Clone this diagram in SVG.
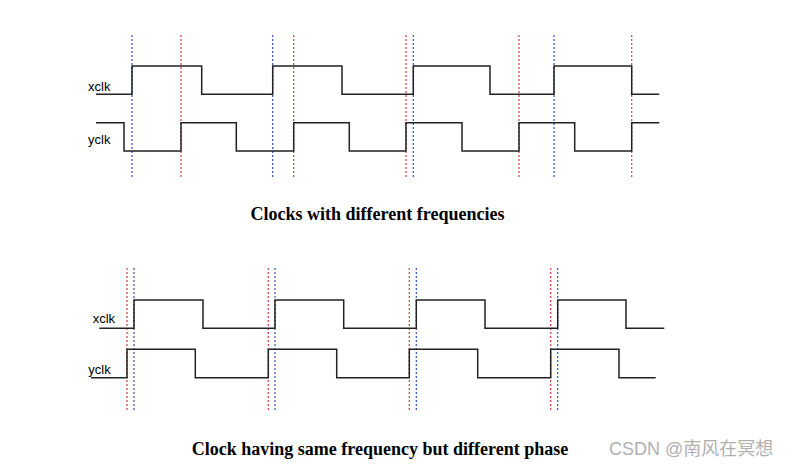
<svg xmlns="http://www.w3.org/2000/svg" width="794" height="468" viewBox="0 0 794 468">
<style>
.wave{fill:none;stroke:#222;stroke-width:1.5}
.blue{stroke:#3050b8;stroke-width:1.2;stroke-dasharray:2 2}
.red{stroke:#e03838;stroke-width:1.2;stroke-dasharray:2 2}
.lbl{font-family:"Liberation Sans",Arial,sans-serif;font-size:13px;fill:#000}
.title{font-family:"Liberation Serif","Times New Roman",serif;font-weight:bold;font-size:18px;fill:#000;text-anchor:middle}
.wm{font-family:"Liberation Sans","Noto Sans CJK SC",sans-serif;font-size:18px;fill:#b0b0b0}
</style>
<rect width="794" height="468" fill="#fff"/>
<g id="top-markers">
<line class="blue" x1="132" y1="35" x2="132" y2="177"/>
<line class="blue" x1="272.7" y1="35" x2="272.7" y2="177"/>
<line class="blue" x1="413.3" y1="35" x2="413.3" y2="177"/>
<line class="blue" x1="554" y1="35" x2="554" y2="177"/>
<line class="red" x1="181" y1="35" x2="181" y2="177"/>
<line class="red" x1="293.7" y1="35" x2="293.7" y2="177"/>
<line class="red" x1="406" y1="35" x2="406" y2="177"/>
<line class="red" x1="519" y1="35" x2="519" y2="177"/>
<line class="red" x1="631.7" y1="35" x2="631.7" y2="177"/>
</g>
<g id="top-xclk">
<text class="lbl" x="88" y="90.5">xclk</text>
<path class="wave" d="M96,94.3 H132 V66 H201.7 V94.3 H272.7 V66 H342 V94.3 H413.3 V66 H490 V94.3 H554 V66 H631.7 V94.3 H659.3"/>
</g>
<g id="top-yclk">
<text class="lbl" x="88" y="143.5">yclk</text>
<path class="wave" d="M96,122.7 H124 V151 H181 V122.7 H236.3 V151 H293.7 V122.7 H349.3 V151 H406 V122.7 H462 V151 H519 V122.7 H574.7 V151 H631.7 V122.7 H659.3"/>
</g>
<g id="top-title">
<text class="title" x="377.5" y="220">Clocks with different frequencies</text>
</g>
<g id="bottom-markers">
<line class="red" x1="127" y1="268" x2="127" y2="411"/>
<line class="red" x1="268.3" y1="268" x2="268.3" y2="411"/>
<line class="red" x1="409.3" y1="268" x2="409.3" y2="411"/>
<line class="red" x1="550.7" y1="268" x2="550.7" y2="411"/>
<line class="blue" x1="134" y1="268" x2="134" y2="411"/>
<line class="blue" x1="275" y1="268" x2="275" y2="411"/>
<line class="blue" x1="416.3" y1="268" x2="416.3" y2="411"/>
<line class="blue" x1="557.7" y1="268" x2="557.7" y2="411"/>
</g>
<g id="bottom-xclk">
<text class="lbl" x="92.7" y="323">xclk</text>
<path class="wave" d="M99.3,328.3 H134 V300 H203 V328.3 H275 V300 H343.7 V328.3 H416.3 V300 H485 V328.3 H557.7 V300 H626 V328.3 H664.3"/>
</g>
<g id="bottom-yclk">
<text class="lbl" x="88.3" y="374">yclk</text>
<path class="wave" d="M91,377.7 H127 V349.3 H195.3 V377.7 H268.3 V349.3 H336.7 V377.7 H409.3 V349.3 H477.7 V377.7 H550.7 V349.3 H619 V377.7 H655.7"/>
</g>
<g id="bottom-title">
<text class="title" x="380" y="455">Clock having same frequency but different phase</text>
</g>
<g id="watermark">
<text class="wm" x="609" y="455">CSDN @南风在冥想</text>
</g>
<g id="connectors"/>
</svg>
